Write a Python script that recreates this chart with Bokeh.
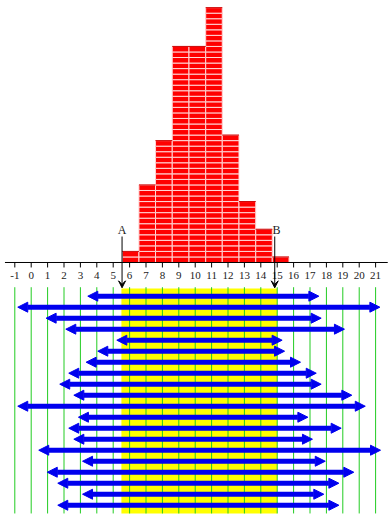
from bokeh.plotting import figure
from bokeh.models import Range1d, ColumnDataSource, Arrow, NormalHead, VeeHead
from bokeh.embed import file_html
from bokeh.resources import INLINE
from bokeh.core.properties import value

# ---------------- data ----------------
tick_values = list(range(-1, 22))
tick_labels = [str(v) for v in tick_values]

bin_edges = [5.55, 6.57, 7.58, 8.6, 9.62, 10.64, 11.65, 12.67, 13.69, 14.7, 15.72]
bin_counts = [2, 14, 22, 39, 39, 46, 23, 11, 6, 1]

point_A = 5.54
point_B = 14.85
band_left = 5.5
band_right = 15.0

interval_left = [3.45, -0.82, 0.91, 2.11, 5.22, 4.06, 3.35, 2.29, 1.74, 2.60,
                 -0.82, 2.88, 2.29, 2.60, 0.46, 3.13, 0.98, 1.62, 3.13, 1.62]
interval_right = [17.54, 21.26, 17.68, 19.10, 15.30, 15.45, 16.42, 17.38, 17.68, 19.55,
                  20.37, 16.87, 18.90, 17.15, 21.30, 17.93, 19.67, 18.76, 17.84, 18.76]

# ---------------- layout constants ----------------
ROW0 = -6.08
ROW_STEP = 1.986
LOWER_TOP = -4.46
BAND_TOP = -4.69
LOWER_BOTTOM = -45.3
SERIF = value("Liberation Serif")
BLUE = "#0000EE"

p = figure(width=392, height=520, output_backend="svg", toolbar_location=None,
           x_range=Range1d(-1.872, 22.03), y_range=Range1d(-46.57, 47.29),
           x_axis_type=None, y_axis_type=None, min_border=0)
p.outline_line_color = None
p.grid.visible = False
p.background_fill_color = "white"
p.border_fill_color = "white"

# yellow band
p.quad(left=[band_left], right=[band_right], top=[BAND_TOP], bottom=[LOWER_BOTTOM],
       fill_color="#FFFF00", line_color=None)

# green grid lines
p.segment(x0=tick_values, x1=tick_values, y0=[LOWER_TOP] * len(tick_values),
          y1=[LOWER_BOTTOM] * len(tick_values), line_color="#22CC22", line_width=1)

# histogram built from stacked unit blocks
bl, br, bb, bt = [], [], [], []
for i, c in enumerate(bin_counts):
    for k in range(c):
        bl.append(bin_edges[i]); br.append(bin_edges[i + 1])
        bb.append(k); bt.append(k + 1)
p.quad(left=bl, right=br, bottom=bb, top=bt, fill_color="#FF0000",
       line_color="#FFD6D6", line_width=1)
p.segment(x0=bin_edges[:-1], x1=bin_edges[1:], y0=bin_counts, y1=bin_counts,
          line_color="#CC0000", line_width=1)

# number line
p.segment(x0=[-1.6], x1=[21.74], y0=[0], y1=[0], line_color="black", line_width=1)
p.segment(x0=tick_values, x1=tick_values, y0=[0] * len(tick_values),
          y1=[-0.9] * len(tick_values), line_color="black", line_width=1)
p.text(x=tick_values, y=[-2.35] * len(tick_values), text=tick_labels,
       text_align="center", text_baseline="middle", text_font=SERIF,
       text_font_size="11px", text_color="#222222")

# A / B markers
ab_src = ColumnDataSource(dict(x=[point_A, point_B], y0=[4.69, 4.69], y1=[-4.57, -4.57]))
p.add_layout(Arrow(end=VeeHead(size=7, fill_color="black", line_color="black"),
                   x_start="x", x_end="x", y_start="y0", y_end="y1",
                   line_color="black", line_width=1, source=ab_src))
p.text(x=[point_A, point_B + 0.1], y=[5.78, 5.78], text=["A", "B"],
       text_align="center", text_baseline="alphabetic", text_font=SERIF,
       text_font_size="12px", text_color="#222222")

# interval arrows
rows = [ROW0 - ROW_STEP * i for i in range(len(interval_left))]
arr_src = ColumnDataSource(dict(x0=interval_left, x1=interval_right, y=rows))
p.add_layout(Arrow(start=NormalHead(size=10, fill_color=BLUE, line_color=BLUE, line_width=1),
                   end=NormalHead(size=10, fill_color=BLUE, line_color=BLUE, line_width=1),
                   x_start="x0", x_end="x1", y_start="y", y_end="y",
                   line_color=BLUE, line_width=5, source=arr_src))

open("out.html", "w").write(file_html(p, INLINE))
